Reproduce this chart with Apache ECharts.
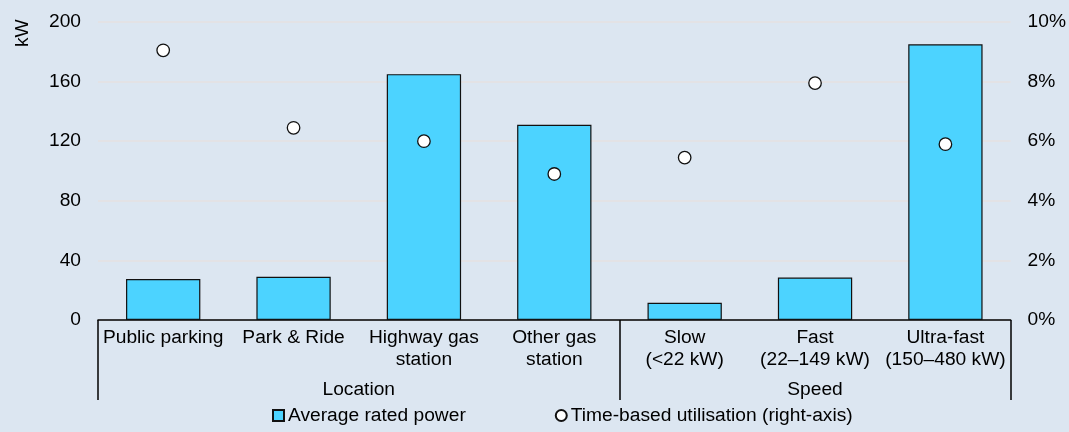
<!DOCTYPE html>
<html><head><meta charset="utf-8">
<script src="https://cdn.jsdelivr.net/npm/echarts@6/dist/echarts.min.js"></script>
<style>html,body{margin:0;padding:0;background:#dce6f1;}#c{width:1069px;height:432px;}</style>
</head><body><div id="c"></div>
<script>
const categories = ['Public parking', 'Park & Ride', 'Highway gas\nstation', 'Other gas\nstation', 'Slow\n(<22 kW)', 'Fast\n(22–149 kW)', 'Ultra-fast\n(150–480 kW)'];
const groupLabels = ['Location', 'Speed'];
const groupStarts = [0, 4];
const groupCenters = [2, 5.5];
const avgPower = [27.5, 29, 165, 131, 11.5, 28.5, 185];
const utilisation = [9.05, 6.45, 6.0, 4.9, 5.45, 7.95, 5.9];
const leftTicks = [0, 40, 80, 120, 160, 200];
const rightTicks = [0, 2, 4, 6, 8, 10];

const font = '"Liberation Sans", Arial, sans-serif';
const fs = 19.2;
const chart = echarts.init(document.getElementById('c'));
chart.setOption({
  backgroundColor: '#dce6f1',
  animation: false,
  textStyle: {fontFamily: font, color: '#000'},
  grid: {left: 98, right: 57, top: 22, bottom: 112, containLabel: false},
  legend: {
    left: 267, top: 401, itemWidth: 11, itemHeight: 11, itemGap: 89,
    textStyle: {fontFamily: font, fontSize: fs, color: '#000', padding: [0, 0, 0, -1]},
    data: [
      {name: 'Average rated power', icon: 'rect'},
      {name: 'Time-based utilisation (right-axis)', icon: 'circle'}
    ]
  },
  graphic: [{
    type: 'text', x: 13, y: 47, rotation: Math.PI / 2,
    style: {text: 'kW', font: fs + 'px ' + font, fill: '#000', textAlign: 'left', textVerticalAlign: 'top'}
  }],
  xAxis: [{
    type: 'category', data: categories, position: 'bottom',
    axisLine: {lineStyle: {color: '#000', width: 1.5}},
    axisTick: {show: true, length: 80, lineStyle: {color: '#000', width: 1.5},
      interval: function (i) { return groupStarts.indexOf(i) >= 0; }},
    axisLabel: {interval: 0, fontSize: fs, lineHeight: 22, color: '#000', margin: 7, fontFamily: font}
  }, {
    type: 'value', min: 0, max: 7, interval: 0.5, position: 'bottom', offset: 58,
    axisLine: {show: false}, axisTick: {show: false}, splitLine: {show: false},
    axisLabel: {fontSize: fs, color: '#000', margin: 1, lineHeight: 22, fontFamily: font,
      showMinLabel: true, showMaxLabel: true,
      formatter: function (v) { const k = groupCenters.indexOf(v); return k >= 0 ? groupLabels[k] : ''; }}
  }],
  yAxis: [{
    type: 'value', min: 0, max: 200, interval: 40,
    axisLine: {show: false}, axisTick: {show: false},
    splitLine: {lineStyle: {color: '#e6e1e1', width: 1.5}},
    axisLabel: {fontSize: fs, color: '#000', margin: 17, fontFamily: font,
      customValues: leftTicks}
  }, {
    type: 'value', min: 0, max: 10, interval: 2,
    axisLine: {show: false}, axisTick: {show: false}, splitLine: {show: false},
    axisLabel: {fontSize: fs, color: '#000', margin: 17, fontFamily: font,
      customValues: rightTicks, formatter: '{value}%'}
  }],
  series: [{
    name: 'Average rated power', type: 'bar', data: avgPower, barWidth: '57%',
    xAxisIndex: 0, yAxisIndex: 0,
    itemStyle: {color: '#4cd3ff', borderColor: '#111', borderWidth: 1.2}
  }, {
    name: 'Time-based utilisation (right-axis)', type: 'scatter', data: utilisation,
    xAxisIndex: 0, yAxisIndex: 1, symbol: 'circle', symbolSize: 12.5, z: 5,
    itemStyle: {color: '#fff', borderColor: '#111', borderWidth: 1.3, opacity: 1}
  }]
});
</script></body></html>
